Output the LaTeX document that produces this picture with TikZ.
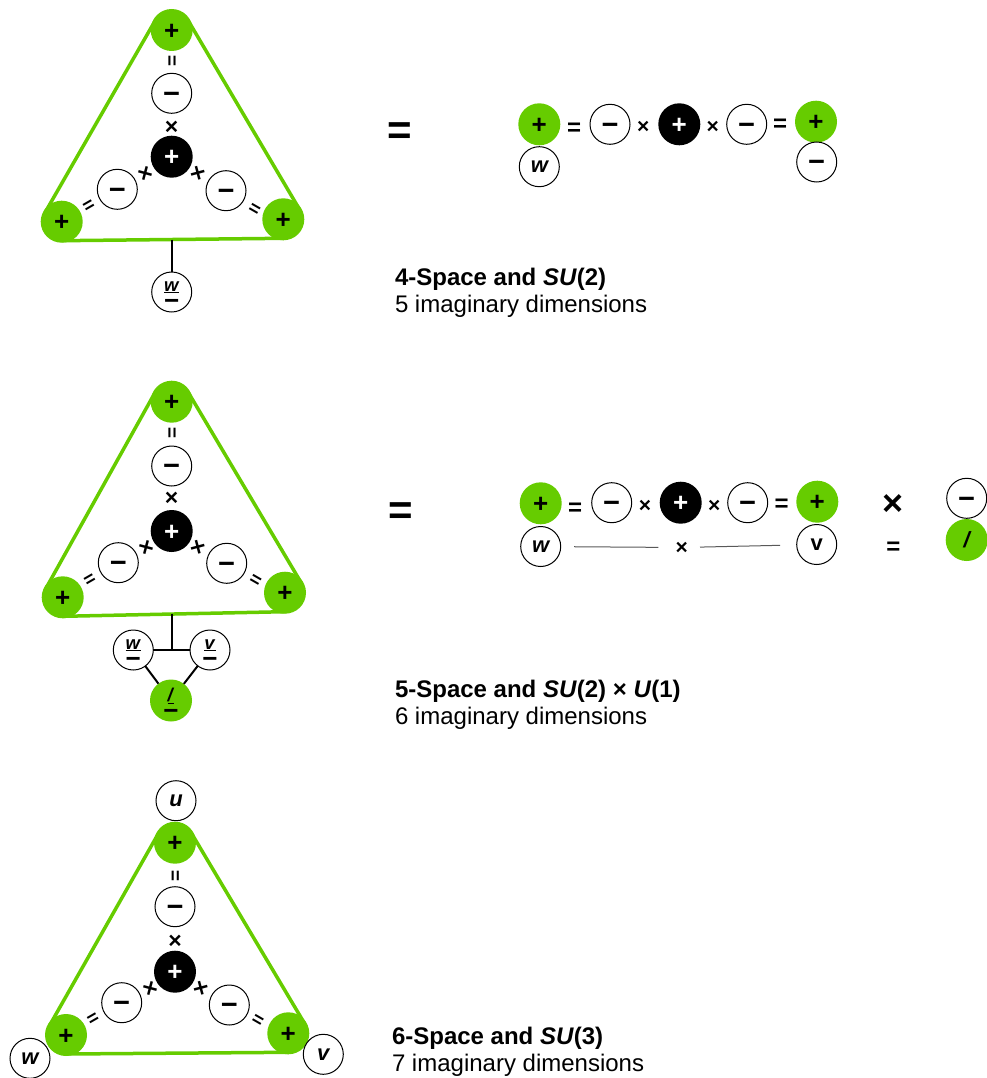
\documentclass[tikz,border=0pt]{standalone}
\usepackage{fontspec}
\setmainfont{Liberation Sans}
\usetikzlibrary{calc,backgrounds}
\definecolor{grn}{RGB}{102,204,0}
\newcommand\stk[1]{\begin{tabular}[b]{@{}c@{}}\underline{\textit{#1}}\\{\fontsize{26}{26}\selectfont −}\end{tabular}}
\newcommand\greentri[3]{%
 \draw[trl] ($(#1)!19pt!-90:(#2)$) -- ($(#2)!19pt!90:(#1)$);
 \draw[trl] ($(#1)!19pt!90:(#3)$) -- ($(#3)!19pt!-90:(#1)$);
 \draw[trl] ($(#2)!19pt!-90:(#3)$) -- ($(#3)!19pt!90:(#2)$);}
\tikzset{
 every node/.style={inner sep=0pt, outer sep=0pt},
 gp/.style={circle, fill=grn, minimum size=42pt, font=\fontsize{26}{26}\selectfont\bfseries, text height=18.2pt, text depth=0pt},
 bp/.style={gp, fill=black, text=white},
 wm/.style={circle, draw, line width=1pt, fill=white, minimum size=40pt, font=\fontsize{29}{29}\selectfont\bfseries, text height=19.7pt, text depth=0pt},
 lc/.style={circle, draw, line width=1pt, fill=white, minimum size=40pt, font=\fontsize{22}{22}\selectfont\bfseries\itshape, text height=11.4pt, text depth=0pt},
 lcu/.style={lc, font=\fontsize{22}{22}\selectfont\bfseries},
 gs/.style={gp, font=\fontsize{22}{22}\selectfont\bfseries\itshape, text height=15.6pt},
 lcs/.style={circle, draw, line width=1pt, fill=white, minimum size=40pt, font=\fontsize{18.5}{18.5}\selectfont\bfseries, text height=35pt, text depth=0pt},
 gss/.style={circle, fill=grn, minimum size=42pt, font=\fontsize{18.5}{18.5}\selectfont\bfseries, text height=38pt, text depth=0pt},
 sm/.style={font=\fontsize{19}{19}\selectfont\bfseries, text height=13.3pt, text depth=0pt},
 sx/.style={font=\fontsize{23}{23}\selectfont\bfseries, text height=16.1pt, text depth=0pt},
 eq/.style={font=\fontsize{24}{24}\selectfont\bfseries, text height=16.8pt, text depth=0pt},
 ex/.style={font=\fontsize{21}{21}\selectfont\bfseries, text height=14.7pt, text depth=0pt},
 big/.style={font=\fontsize{42}{42}\selectfont\bfseries, text height=29.4pt, text depth=0pt},
 bigx/.style={font=\fontsize{36}{36}\selectfont\bfseries, text height=25.2pt, text depth=0pt},
 trl/.style={draw=grn, line width=3.5pt, line cap=round},
 conn/.style={draw=black, line width=2pt},
 gline/.style={draw=black!65, line width=1pt},
 ttl/.style={anchor=base west, font=\fontsize{24}{27}\selectfont\bfseries},
 sub/.style={anchor=base west, font=\fontsize{24}{27}\selectfont},
}
\begin{document}
\begin{tikzpicture}[x=1pt,y=1pt]
\useasboundingbox (0,0) rectangle (987,-1078);

% ---------- Section 1 triangle ----------
\node[gp] (t1) at (171.7,-30) {+};
\node[sm, rotate=90] (q1t) at (171.7,-60.7) {=};
\node[wm] (m1t) at (171.7,-93.3) {−};
\node[sx] (x1t) at (171.7,-126) {×};
\node[bp] (c1) at (171.7,-156.7) {+};
\node[sx, rotate=30] (x1l) at (145,-173.3) {×};
\node[sx, rotate=-30] (x1r) at (198.3,-172.7) {×};
\node[wm] (m1l) at (117.3,-189.3) {−};
\node[wm] (m1r) at (226,-190.7) {−};
\node[sm, rotate=30] (q1l) at (88.3,-205) {=};
\node[sm, rotate=-30] (q1r) at (255,-208.3) {=};
\node[gp] (l1) at (61.7,-221.7) {+};
\node[gp] (r1) at (283.3,-219.3) {+};
\coordinate (b1) at (171.7,-239.5);
\node[lcs] (w1) at (171.7,-292) {\stk{w}};
\draw[conn] (b1) -- (w1);
\begin{scope}[on background layer]
\greentri{t1}{l1}{r1}
\end{scope}

% ---------- Section 1 equation ----------
\node[big] (bq1) at (399.7,-130.3) {=};
\node[gp] (e1a) at (539.3,-124.3) {+};
\node[eq] (e1b) at (574,-127.3) {=};
\node[wm] (e1c) at (610,-124.3) {−};
\node[ex] (e1d) at (643.3,-126) {×};
\node[bp] (e1e) at (679.3,-124.3) {+};
\node[ex] (e1f) at (712.7,-126) {×};
\node[wm] (e1g) at (746.7,-124.3) {−};
\node[eq] (e1h) at (780,-123.3) {=};
\node[gp] (e1i) at (816,-121.7) {+};
\node[lc] (e1w) at (539.3,-166.7) {w};
\node[wm] (e1m) at (816.7,-162) {−};

\node[ttl] (h1) at (395,-285.5) {4-Space and \textit{SU}(2)};
\node[sub] (s1) at (395,-312.5) {5 imaginary dimensions};

% ---------- Section 2 triangle ----------
\node[gp] (t2) at (171.7,-401.7) {+};
\node[sm, rotate=90] (q2t) at (171.7,-433.3) {=};
\node[wm] (m2t) at (171.7,-466) {−};
\node[sx] (x2t) at (171.7,-497.7) {×};
\node[bp] (c2) at (171.7,-531) {+};
\node[sx, rotate=30] (x2l) at (146.7,-546.7) {×};
\node[sx, rotate=-30] (x2r) at (198.3,-546.7) {×};
\node[wm] (m2l) at (118.3,-562.7) {−};
\node[wm] (m2r) at (226.7,-563.3) {−};
\node[sm, rotate=30] (q2l) at (89.3,-579.3) {=};
\node[sm, rotate=-30] (q2r) at (256,-579.3) {=};
\node[gp] (l2) at (62.7,-597.3) {+};
\node[gp] (r2) at (285,-592.7) {+};
\coordinate (b2) at (171.7,-613.5);
\coordinate (j2) at (171.7,-650);
\node[lcs] (w2) at (133.3,-650) {\stk{w}};
\node[lcs] (v2) at (210,-650) {\stk{v}};
\node[gss] (g2) at (171,-700.5) {\stk{/}};
\draw[conn] (b2) -- (j2);
\draw[conn] (w2) -- (v2);
\draw[conn] (w2) -- (g2);
\draw[conn] (v2) -- (g2);
\begin{scope}[on background layer]
\greentri{t2}{l2}{r2}
\end{scope}

% ---------- Section 2 equation ----------
\node[big] (bq2) at (400.5,-510) {=};
\node[gp] (f1a) at (540.7,-503.3) {+};
\node[eq] (f1b) at (575,-506.7) {=};
\node[wm] (f1c) at (611.7,-502.7) {−};
\node[ex] (f1d) at (645,-505) {×};
\node[bp] (f1e) at (680.7,-502.7) {+};
\node[ex] (f1f) at (714.3,-505) {×};
\node[wm] (f1g) at (747.7,-502.7) {−};
\node[eq] (f1h) at (781.7,-503.3) {=};
\node[gp] (f1i) at (817.3,-501.7) {+};
\node[bigx] (f1j) at (893.3,-503.3) {×};
\node[wm] (f1k) at (966.7,-498.3) {−};
\node[lc] (f2w) at (540.7,-546.5) {w};
\node[ex] (f2x) at (681.7,-547.5) {×};
\node[lcu] (f2v) at (816.7,-544.5) {v};
\node[eq] (f2q) at (893.3,-546) {=};
\node[gs] (f2s) at (966.7,-540) {/};
\draw[gline, shorten <=33.3pt, shorten >=23.4pt] (f2w.center) -- (f2x.center);
\draw[gline, shorten <=18.3pt, shorten >=36.7pt] (f2x.center) -- (f2v.center);

\node[ttl] (h2) at (395,-697) {5-Space and \textit{SU}(2) × \textit{U}(1)};
\node[sub] (s2) at (395,-724) {6 imaginary dimensions};

% ---------- Section 3 triangle ----------
\node[lc] (u3) at (176,-800.7) {u};
\node[gp] (t3) at (175,-842.7) {+};
\node[sm, rotate=90] (q3t) at (175,-876) {=};
\node[wm] (m3t) at (175,-906.7) {−};
\node[sx] (x3t) at (175,-940) {×};
\node[bp] (c3) at (175,-971.7) {+};
\node[sx, rotate=30] (x3l) at (150,-988.3) {×};
\node[sx, rotate=-30] (x3r) at (201.7,-988.3) {×};
\node[wm] (m3l) at (121.7,-1002.7) {−};
\node[wm] (m3r) at (229.3,-1005) {−};
\node[sm, rotate=30] (q3l) at (92.7,-1018.3) {=};
\node[sm, rotate=-30] (q3r) at (258.3,-1020) {=};
\node[gp] (l3) at (66,-1035) {+};
\node[gp] (r3) at (288.3,-1033.3) {+};
\node[lc] (w3) at (30,-1058.3) {w};
\node[lc] (v3) at (323.3,-1054.3) {v};
\begin{scope}[on background layer]
\greentri{t3}{l3}{r3}
\end{scope}

\node[ttl] (h3) at (392,-1044) {6-Space and \textit{SU}(3)};
\node[sub] (s3) at (392,-1071) {7 imaginary dimensions};
\end{tikzpicture}
\end{document}
